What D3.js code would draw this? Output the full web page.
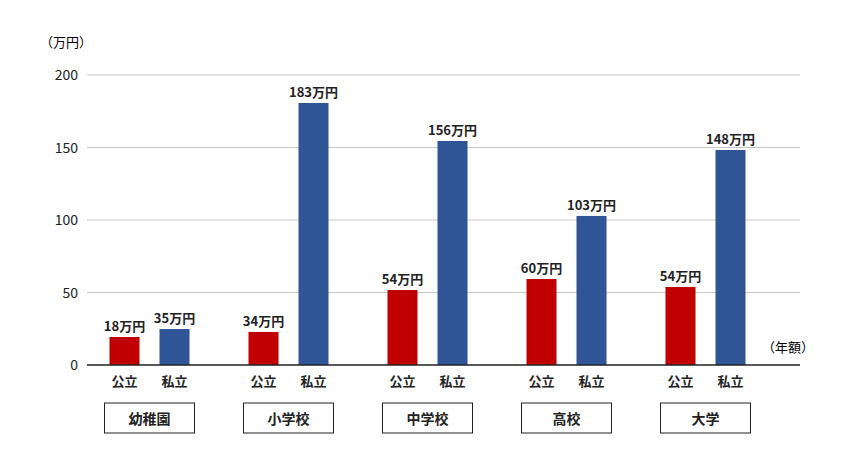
<!DOCTYPE html>
<html><head><meta charset="utf-8">
<script src="https://cdn.jsdelivr.net/npm/d3@7"></script>
<style>body{margin:0;background:#fff}text{font-family:"Noto Sans CJK JP","Noto Sans",sans-serif}</style>
</head><body><svg width="850" height="470"></svg>
<script>
const schools = ["幼稚園", "小学校", "中学校", "高校", "大学"];
const types = ["公立", "私立"];
// bar heights as drawn in the picture
const publicVals = [19.3, 22.8, 51.7, 59.3, 53.8];
const privateVals = [24.8, 180.7, 154.5, 102.8, 148.3];
// value labels printed above the bars
const publicLabels = ["18万円", "34万円", "54万円", "60万円", "54万円"];
const privateLabels = ["35万円", "183万円", "156万円", "103万円", "148万円"];
const yTicks = [0, 50, 100, 150, 200];
const colors = {"公立": "#c00000", "私立": "#2f5597"};

const svg = d3.select("svg");
const y = d3.scaleLinear().domain([0, 200]).range([365, 75]);
const x = d3.scaleBand().domain(schools).range([80, 775]).paddingInner(0);
const sub = d3.scaleBand().domain(types).range([-40, 40]).paddingInner(0.4);

svg.append("g").selectAll("line").data(yTicks.slice(1)).enter().append("line")
  .attr("x1", 87).attr("x2", 800).attr("y1", d => y(d)).attr("y2", d => y(d))
  .attr("stroke", "#c8c8c8");
svg.append("g").selectAll("text").data(yTicks).enter().append("text")
  .attr("x", 78).attr("y", d => y(d) + 5).attr("text-anchor", "end")
  .attr("font-size", 14).attr("fill", "#222").text(d => d);
svg.append("text").attr("x", 40).attr("y", 47).attr("font-size", 13).text("（万円）");
svg.append("text").attr("x", 762).attr("y", 352).attr("font-size", 13).text("（年額）");

const rows = [];
schools.forEach((s, i) => {
  rows.push({s, t: "公立", v: publicVals[i], l: publicLabels[i]});
  rows.push({s, t: "私立", v: privateVals[i], l: privateLabels[i]});
});
const g = svg.append("g");
const cx = s => x(s) + x.bandwidth() / 2;
g.selectAll("rect").data(rows).enter().append("rect")
  .attr("x", d => cx(d.s) + sub(d.t)).attr("width", sub.bandwidth())
  .attr("y", d => y(d.v)).attr("height", d => y(0) - y(d.v)).attr("fill", d => colors[d.t]);
g.selectAll("text.v").data(rows).enter().append("text")
  .attr("x", d => cx(d.s) + sub(d.t) + sub.bandwidth() / 2).attr("y", d => y(d.v) - 6)
  .attr("text-anchor", "middle").attr("font-size", 13).attr("font-weight", "bold").attr("fill", "#222").text(d => d.l);
g.selectAll("text.t").data(rows).enter().append("text")
  .attr("x", d => cx(d.s) + sub(d.t) + sub.bandwidth() / 2).attr("y", 386)
  .attr("text-anchor", "middle").attr("font-size", 13).attr("font-weight", "bold").attr("fill", "#222").text(d => d.t);
svg.append("line").attr("x1", 87).attr("x2", 800).attr("y1", 365).attr("y2", 365).attr("stroke", "#222").attr("stroke-width", 1.5);

const box = svg.append("g").selectAll("g").data(schools).enter().append("g");
box.append("rect").attr("x", d => cx(d) - 45).attr("y", 403).attr("width", 90).attr("height", 30)
  .attr("fill", "none").attr("stroke", "#222");
box.append("text").attr("x", d => cx(d)).attr("y", 424).attr("text-anchor", "middle")
  .attr("font-size", 14).attr("font-weight", "bold").attr("fill", "#222").text(d => d);
</script></body></html>
